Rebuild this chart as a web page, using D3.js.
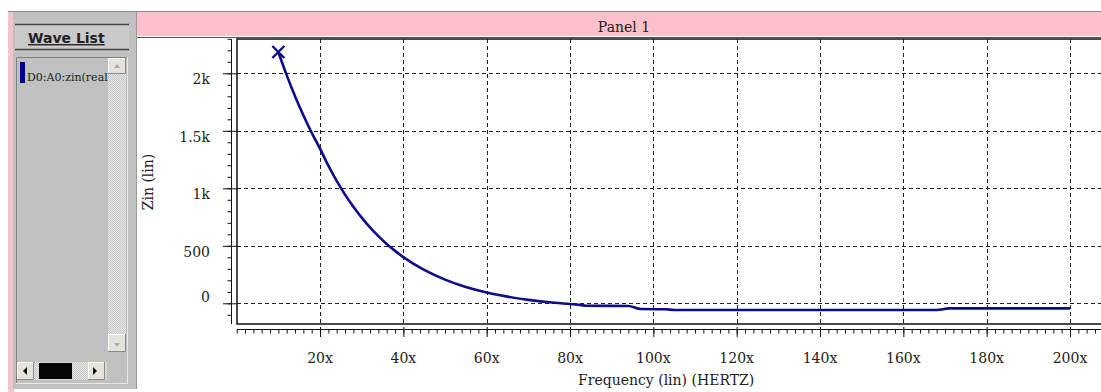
<!DOCTYPE html>
<html><head><meta charset="utf-8">
<script src="https://cdn.jsdelivr.net/npm/d3@7"></script>
<style>
html,body{margin:0;padding:0;background:#fff;}
svg{display:block;}
text{font-family:"DejaVu Serif",serif;fill:#222;}
</style></head>
<body>
<script>
// ---- data ----
const freq = [10,12,14,16,18,20,22,24,26,28,30,32,34,36,38,40,45,50,55,60,65,70,75,80,82,84,94,97,103,105,168,171,200];
const zin  = [2185,1984,1801,1635,1483,1345,1197,1064,945,839,745,660,584,516,456,402,290,206,142,94,58,30,9,-6,-12,-21,-24,-50,-52,-58,-58,-44,-44];
const xMajorTicks = [20,40,60,80,100,120,140,160,180,200];
const xTickLabels = ["20x","40x","60x","80x","100x","120x","140x","160x","180x","200x"];
const yMajorTicks = [0,500,1000,1500,2000];
const yTickLabels = ["0","500","1k","1.5k","2k"];
const markerPoint = [10,2185];
const panelTitle = "Panel 1";
const xTitle = "Frequency (lin) (HERTZ)";
const yTitle = "Zin (lin)";
const waveName = "D0:A0:zin(real";

(function(){
const W=1101,H=392;
const svg=d3.select("body").append("svg").attr("width",W).attr("height",H);

// ---- left wave list panel ----
const lp=svg.append("g");
lp.append("rect").attr("x",8).attr("y",12).attr("width",6).attr("height",380).attr("fill","#f4c4cc");
lp.append("rect").attr("x",13).attr("y",12).attr("width",124).attr("height",377).attr("fill","#c0c0c0");
lp.append("line").attr("x1",136.5).attr("x2",136.5).attr("y1",12).attr("y2",389).attr("stroke","#9a9a9a");
lp.append("rect").attr("x",15).attr("y",24).attr("width",114).attr("height",26).attr("fill","#cacaca");
lp.append("line").attr("x1",15).attr("x2",129).attr("y1",24.5).attr("y2",24.5).attr("stroke","#444").attr("stroke-width",1.5);
lp.append("line").attr("x1",15).attr("x2",129).attr("y1",49.5).attr("y2",49.5).attr("stroke","#444").attr("stroke-width",1.5);
lp.append("text").attr("x",28).attr("y",43).attr("font-weight","bold")
  .attr("font-size",14).attr("text-decoration","underline").style("font-family","DejaVu Sans, sans-serif").text("Wave List");
// list box
lp.append("rect").attr("x",16.5).attr("y",57.5).attr("width",111).attr("height",326).attr("fill","#c0c0c0").attr("stroke","#e8e8e8");
lp.append("line").attr("x1",16.5).attr("x2",127).attr("y1",57.5).attr("y2",57.5).attr("stroke","#808080");
lp.append("line").attr("x1",16.5).attr("x2",16.5).attr("y1",57.5).attr("y2",383).attr("stroke","#808080");
lp.append("rect").attr("x",20).attr("y",62).attr("width",5).attr("height",21).attr("fill","#00008b");
lp.append("text").attr("x",27).attr("y",81).attr("font-size",11).text(waveName);
// vertical scrollbar
const defs=svg.append("defs");
const pat=defs.append("pattern").attr("id","chk").attr("width",2).attr("height",2).attr("patternUnits","userSpaceOnUse");
pat.append("rect").attr("width",2).attr("height",2).attr("fill","#e6e6e6");
pat.append("rect").attr("width",1).attr("height",1).attr("fill","#c8c8c8");
pat.append("rect").attr("x",1).attr("y",1).attr("width",1).attr("height",1).attr("fill","#c8c8c8");
lp.append("rect").attr("x",108).attr("y",58).attr("width",18).attr("height",294).attr("fill","url(#chk)");
function btn(x,y,w,h){
  lp.append("rect").attr("x",x).attr("y",y).attr("width",w).attr("height",h).attr("fill","#e4e2da");
  lp.append("path").attr("d",`M${x+0.5},${y+h}V${y+0.5}H${x+w}`).attr("stroke","#fff").attr("fill","none");
  lp.append("path").attr("d",`M${x},${y+h-0.5}H${x+w-0.5}V${y}`).attr("stroke","#8a8a8a").attr("fill","none");
}
btn(108,58,18,16); lp.append("path").attr("d","M114,68L117,64L120,68Z").attr("fill","#aaa");
btn(108,334,18,18); lp.append("path").attr("d","M114,343L117,347L120,343Z").attr("fill","#aaa");
// horizontal scrollbar
lp.append("rect").attr("x",17).attr("y",362).attr("width",90).attr("height",18).attr("fill","url(#chk)");
btn(17,362,17,18); lp.append("path").attr("d","M23,371L27,367L27,375Z").attr("fill","#111");
btn(88,362,17,18); lp.append("path").attr("d","M97,371L93,367L93,375Z").attr("fill","#111");
lp.append("rect").attr("x",39).attr("y",363).attr("width",33).attr("height",16).attr("fill","#050505");

// ---- panel header ----
svg.append("rect").attr("x",137).attr("y",12).attr("width",W-137).attr("height",24).attr("fill","#ffc0cb");
svg.append("line").attr("x1",8).attr("x2",W).attr("y1",11.5).attr("y2",11.5).attr("stroke","#8c8c8c");
svg.append("line").attr("x1",137).attr("x2",W).attr("y1",37.5).attr("y2",37.5).attr("stroke","#555");
svg.append("text").attr("x",624).attr("y",32).attr("text-anchor","middle").attr("font-size",14).text(panelTitle);

// ---- scales ----
const x=d3.scaleLinear().domain([0,200]).range([236.7,1070]);
const y=d3.scaleLinear().domain([0,2000]).range([303.3,73.3]);
const pTop=39, pBot=324, pLeft=237;

const clip=defs.append("clipPath").attr("id","pc");
clip.append("rect").attr("x",pLeft).attr("y",pTop).attr("width",W-pLeft).attr("height",pBot-pTop);

// grid
const grid=svg.append("g").attr("stroke","#222").attr("stroke-dasharray","4,3").attr("stroke-width",1);
grid.selectAll(".gx").data(xMajorTicks).join("line").attr("class","gx")
  .attr("x1",d=>Math.round(x(d))+0.5).attr("x2",d=>Math.round(x(d))+0.5).attr("y1",pTop).attr("y2",pBot);
grid.selectAll(".gy").data(yMajorTicks).join("line").attr("class","gy")
  .attr("y1",d=>Math.round(y(d))+0.5).attr("y2",d=>Math.round(y(d))+0.5).attr("x1",pLeft).attr("x2",W);

// plot frame
svg.append("path").attr("d",`M${W},${pTop}H${pLeft}V${pBot}H${W}`).attr("fill","none").attr("stroke","#111").attr("stroke-width",1.5);

// y axis (minor + major)
const yMinor=d3.range(-100,2301,100);
const yAxMinor=svg.append("g").attr("transform","translate(231.5,0)")
  .call(d3.axisLeft(y).tickValues(yMinor).tickSize(4).tickSizeOuter(0).tickFormat(""));
yAxMinor.select(".domain").attr("d",`M0,${pTop}V${pBot}`).attr("stroke","#111");
const yAxMajor=svg.append("g").attr("transform","translate(237,0)")
  .call(d3.axisLeft(y).tickValues(yMajorTicks).tickSize(14).tickFormat(""));
yAxMajor.select(".domain").remove();
// y labels
svg.append("g").selectAll("text").data(yMajorTicks).join("text")
  .attr("x",210).attr("text-anchor","end").attr("font-size",14)
  .attr("y",(d)=> d===0 ? y(d)-1 : y(d)+11)
  .text((d,i)=>yTickLabels[i]);
svg.append("text").attr("transform","translate(153,182) rotate(-90)").attr("text-anchor","middle").attr("font-size",14).text(yTitle);

// x axis
const xMinor=d3.range(0,208,2);
const xAxMinor=svg.append("g").attr("transform","translate(0,329.5)")
  .call(d3.axisBottom(x).tickValues(xMinor).tickSize(4).tickSizeOuter(0).tickFormat(""));
xAxMinor.select(".domain").attr("d",`M${pLeft},0H${W}`).attr("stroke","#111");
const xAxMajor=svg.append("g").attr("transform","translate(0,327)")
  .call(d3.axisBottom(x).tickValues(xMajorTicks).tickSize(10).tickFormat(""));
xAxMajor.select(".domain").remove();
svg.selectAll(".tick line").attr("stroke","#111");
svg.append("g").selectAll("text").data(xMajorTicks).join("text")
  .attr("x",d=>x(d)).attr("y",363).attr("text-anchor","middle").attr("font-size",14)
  .text((d,i)=>xTickLabels[i]);
svg.append("text").attr("x",578).attr("y",385).attr("font-size",14).text(xTitle);

// curve
const pts=freq.map((f,i)=>[f,zin[i]]);
svg.append("path").datum(pts).attr("clip-path","url(#pc)")
  .attr("d",d3.line().x(d=>x(d[0])).y(d=>y(d[1])).curve(d3.curveMonotoneX))
  .attr("fill","none").attr("stroke","#0c0c8c").attr("stroke-width",2.6).attr("stroke-linejoin","round");
// marker
const mx=x(markerPoint[0]), my=y(markerPoint[1]);
svg.append("path").attr("d",`M${mx-6},${my-6}L${mx+6},${my+6}M${mx-6},${my+6}L${mx+6},${my-6}`)
  .attr("stroke","#0c0c8c").attr("stroke-width",2.4);
})();
</script>
</body></html>
